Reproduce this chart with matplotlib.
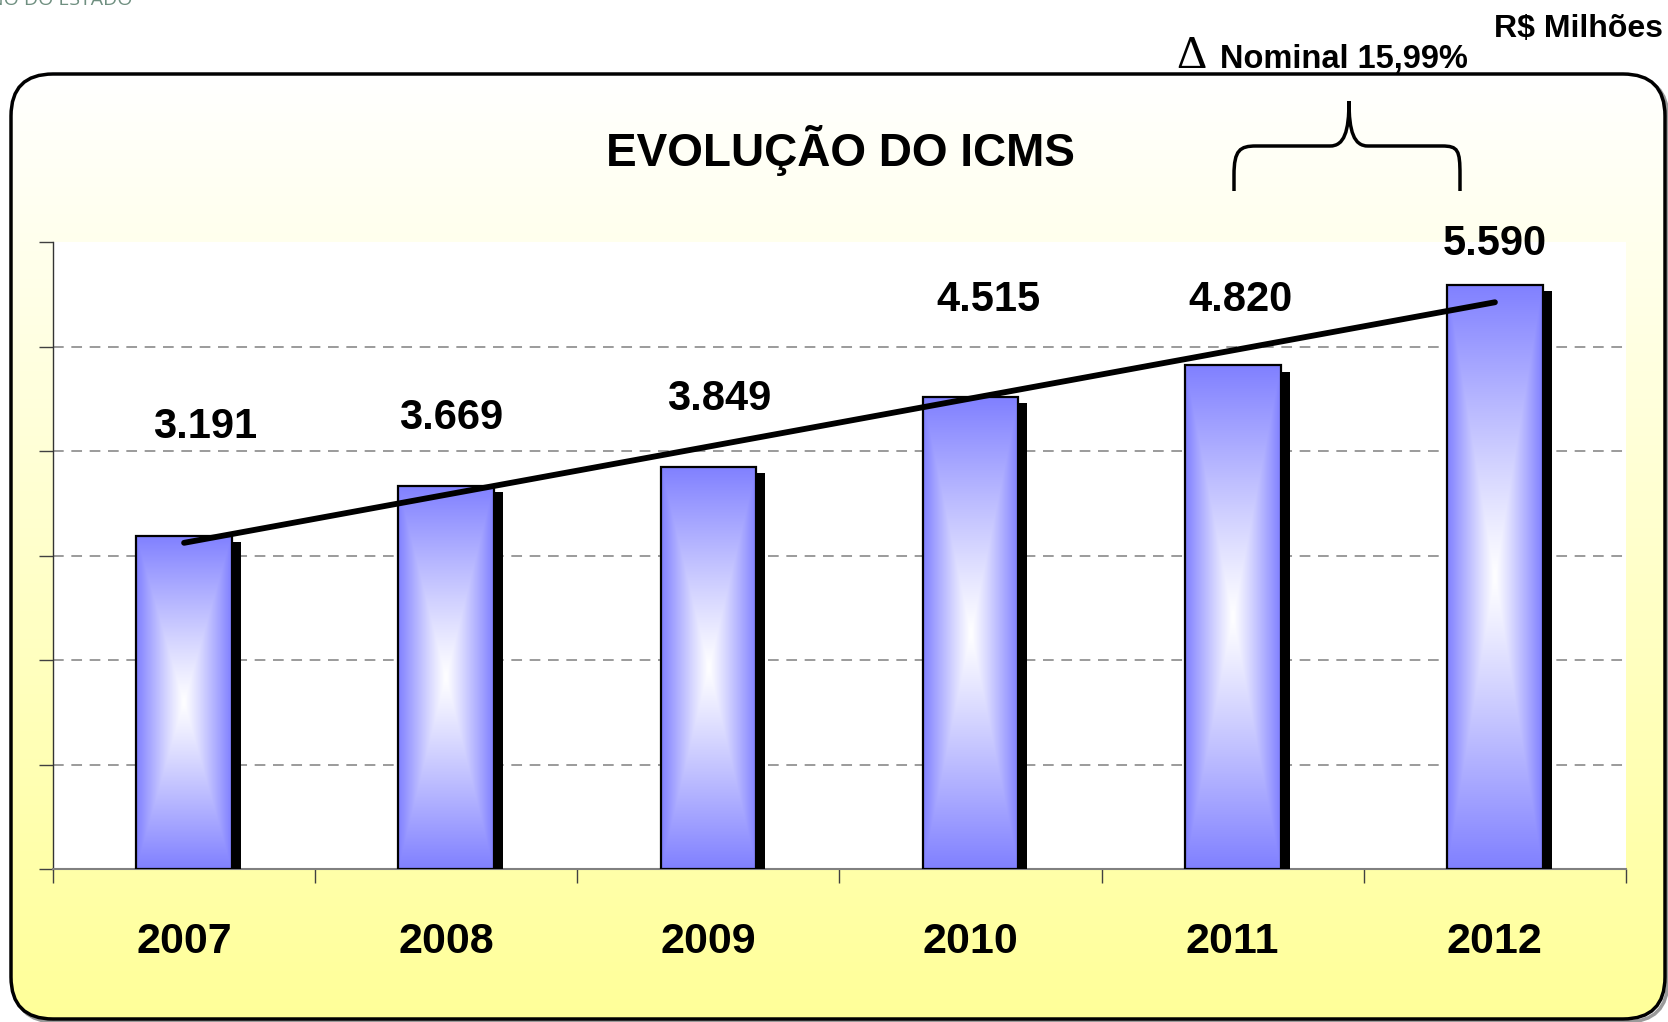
import numpy as np
import matplotlib
matplotlib.use('Agg')
import matplotlib.pyplot as plt
from matplotlib.patches import FancyBboxPatch, Rectangle, PathPatch
from matplotlib.path import Path
import matplotlib.patheffects as pe

# ---------------- data ----------------
years = ['2007', '2008', '2009', '2010', '2011', '2012']
icms = [3191, 3669, 3849, 4515, 4820, 5590]
title = 'EVOLUÇÃO DO ICMS'
unit_label = 'R$ Milhões'
growth_label = 'Nominal 15,99%'
header = 'GOVERNO DO ESTADO'
y_max = 6000
y_step = 1000

# ---------------- layout ----------------
label_dx = [0.08, 0.02, 0.04, 0.07, 0.03, 0.0]
label_y = [4124, 4211, 4392, 5340, 5340, 5876]

FONT = ['Liberation Sans Narrow', 'Liberation Sans', 'DejaVu Sans']
plt.rcParams['font.family'] = FONT

W, H = 1668, 1022
fig = plt.figure(figsize=(W / 100, H / 100), dpi=100)
fig.patch.set_facecolor('white')

# background axes in pixel units
bg = fig.add_axes([0, 0, 1, 1], zorder=0)
bg.set_xlim(0, W)
bg.set_ylim(H, 0)
bg.axis('off')

bx0, by0, bx1, by1 = 11, 74, 1665, 1019
shadow = FancyBboxPatch((bx0 + 3, by0 + 3), bx1 - bx0, by1 - by0,
                        boxstyle='round,pad=0,rounding_size=42',
                        fc='none', ec='#9a9a9a', lw=2.5, zorder=1)
bg.add_patch(shadow)
box = FancyBboxPatch((bx0, by0), bx1 - bx0, by1 - by0,
                     boxstyle='round,pad=0,rounding_size=42',
                     fc='none', ec='none', zorder=2)
bg.add_patch(box)
t = np.linspace(0, 1, 256)[:, None]
white = np.array([1.0, 1.0, 1.0])
yellow = np.array([1.0, 1.0, 153 / 255])
grad = (white[None, None, :] * (1 - t[..., None]) + yellow[None, None, :] * t[..., None])
grad = np.repeat(grad, 4, axis=1)
im = bg.imshow(grad, extent=(bx0, bx1, by1, by0), aspect='auto', zorder=2,
               interpolation='bilinear')
im.set_clip_path(box)
outline = FancyBboxPatch((bx0, by0), bx1 - bx0, by1 - by0,
                         boxstyle='round,pad=0,rounding_size=42',
                         fc='none', ec='black', lw=2.5, zorder=3)
bg.add_patch(outline)
bg.set_xlim(0, W)
bg.set_ylim(H, 0)

# header (cropped at the top edge, as in the source slide)
bg.text(133, 5, header, ha='right', va='baseline', fontsize=14,
        color='#6f8f80', family=['Open Sans', 'DejaVu Sans'], zorder=4)

# title and annotations
bg.text(840, 166, title, ha='center', va='baseline', fontsize=33,
        fontweight='bold', zorder=4)
bg.text(1176, 68, 'Δ', ha='left', va='baseline', fontsize=34,
        family=['Liberation Serif', 'DejaVu Serif'], zorder=4)
bg.text(1220, 68, growth_label, ha='left', va='baseline', fontsize=23.5,
        fontweight='bold', zorder=4)
bg.text(1663, 37, unit_label, ha='right', va='baseline', fontsize=23,
        fontweight='bold', zorder=4)

# curly brace
verts = [(1234, 191), (1234, 175),
         (1234, 150), (1240, 146), (1256, 146),
         (1330, 146),
         (1344, 146), (1349, 132), (1349, 101),
         (1349, 132), (1354, 146), (1368, 146),
         (1442, 146),
         (1458, 146), (1460, 150), (1460, 175),
         (1460, 191)]
codes = [Path.MOVETO, Path.LINETO,
         Path.CURVE4, Path.CURVE4, Path.CURVE4,
         Path.LINETO,
         Path.CURVE4, Path.CURVE4, Path.CURVE4,
         Path.CURVE4, Path.CURVE4, Path.CURVE4,
         Path.LINETO,
         Path.CURVE4, Path.CURVE4, Path.CURVE4,
         Path.LINETO]
bg.add_patch(PathPatch(Path(verts, codes), fill=False, ec='black', lw=2.5,
                       capstyle='butt', zorder=4))

# ---------------- main axes ----------------
ax = fig.add_axes([53 / W, 1 - 869 / H, (1626 - 53) / W, (869 - 242) / H], zorder=1)
ax.set_facecolor('white')
x = np.arange(len(years))
bar_w = 0.365

ax.hlines(np.arange(y_step, y_max, y_step), -0.5, len(years) - 0.5,
          colors='#808080', linestyles=(0, (7, 5)), lw=1.1, zorder=1)

bars = ax.bar(x, icms, width=bar_w, color='#8080FF', edgecolor='none', zorder=3,
              path_effects=[pe.SimplePatchShadow(offset=(6.5, -4.5),
                                                 shadow_rgbFace='black', alpha=1.0),
                            pe.Normal()])

blue = np.array([128, 128, 255]) / 255.0
u = np.linspace(-1, 1, 120)[None, :]
v = np.linspace(-1, 1, 300)[:, None]
tt = np.maximum(np.abs(u), np.abs(v)) ** 1.1
bar_grad = white[None, None, :] * (1 - tt[..., None]) + blue[None, None, :] * tt[..., None]
for b in bars:
    x0 = b.get_x()
    w = b.get_width()
    h = b.get_height()
    gi = ax.imshow(bar_grad, extent=(x0, x0 + w, 0, h), aspect='auto', zorder=3.5,
                   interpolation='bilinear')
    gi.set_clip_path(b)
    ax.add_patch(Rectangle((x0, 0), w, h, fill=False, ec='black', lw=1.6, zorder=4))

# trend line
coef = np.polyfit(x, icms, 1)
ax.plot([x[0], x[-1]], np.polyval(coef, [x[0], x[-1]]), color='black', lw=4.2,
        solid_capstyle='round', zorder=6)

# value labels
for xi, v_, dx, ly in zip(x, icms, label_dx, label_y):
    ax.text(xi + dx, ly, f'{v_:,}'.replace(',', '.'), ha='center', va='baseline',
            fontsize=30, fontweight='bold', zorder=7)

ax.set_xlim(-0.5, len(years) - 0.5)
ax.set_ylim(0, y_max)
ax.set_yticks(np.arange(0, y_max + 1, y_step))
ax.set_yticklabels([])
ax.set_xticks(np.arange(-0.5, len(years), 1))
ax.set_xticklabels([])
ax.set_xticks(x, years, minor=True)
ax.tick_params(axis='x', which='minor', length=0, pad=38, labelsize=31)
for lab in ax.get_xticklabels(minor=True):
    lab.set_fontweight('bold')
ax.tick_params(axis='x', which='major', length=10, width=1, color='#404040', direction='out')
ax.tick_params(axis='y', which='major', length=10, width=1, color='#404040', direction='out')
for s in ['top', 'right']:
    ax.spines[s].set_visible(False)
ax.spines['left'].set_color('#333333')
ax.spines['left'].set_linewidth(1)
ax.spines['bottom'].set_color('#808080')
ax.spines['bottom'].set_linewidth(1.5)

fig.savefig('out.png', dpi=100)
